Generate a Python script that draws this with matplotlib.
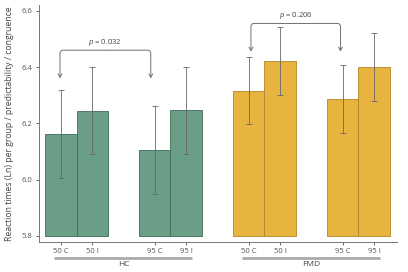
import numpy as np
import matplotlib.pyplot as plt

plt.rcParams['font.family'] = ['Open Sans', 'DejaVu Sans']
plt.rcParams['mathtext.fontset'] = 'custom'
plt.rcParams['mathtext.it'] = 'Open Sans:italic'
plt.rcParams['mathtext.rm'] = 'Open Sans'

labels = ['50 C', '50 I', '95 C', '95 I', '50 C', '50 I', '95 C', '95 I']
groups = ['HC', 'FMD']
hc_means = [6.163, 6.245, 6.106, 6.247]
hc_err = [0.157, 0.155, 0.156, 0.155]
fmd_means = [6.316, 6.421, 6.288, 6.401]
fmd_err = [0.120, 0.122, 0.121, 0.121]
p_values = ['0.032', '0.206']

base = 5.8
pos = np.array([0, 1, 3, 4, 6, 7, 9, 10])
green, green_edge = '#6a9e86', '#3f6b57'
yellow, yellow_edge = '#e8b440', '#b08628'
grey = '#666666'

fig = plt.figure(figsize=(4.08, 2.72), dpi=100)
ax = fig.add_axes([0.0956, 0.110, 0.877, 0.872])

ax.bar(pos[:4], np.array(hc_means) - base, 1.0, bottom=base, color=green,
       edgecolor=green_edge, linewidth=0.6)
ax.bar(pos[4:], np.array(fmd_means) - base, 1.0, bottom=base, color=yellow,
       edgecolor=yellow_edge, linewidth=0.6)
ax.errorbar(pos, hc_means + fmd_means, yerr=hc_err + fmd_err, fmt='none',
            ecolor=grey, elinewidth=0.6, capsize=2.5, capthick=0.6)

ax.set_xlim(-0.7, 10.73)
ax.set_ylim(5.778, 6.621)
ax.set_yticks([5.8, 6.0, 6.2, 6.4, 6.6])
ax.set_yticklabels(['5.8', '6.0', '6.2', '6.4', '6.6'])
ax.set_xticks(pos)
ax.set_xticklabels(labels)
ax.tick_params(axis='both', labelsize=5.5, colors='#555555', length=2.5,
               width=0.6, pad=2)
for s in ['top', 'right']:
    ax.spines[s].set_visible(False)
for s in ['left', 'bottom']:
    ax.spines[s].set_color('#777777')
    ax.spines[s].set_linewidth(0.7)
ax.set_ylabel('Reaction times (Ln) per group / predictability / congruence',
              fontsize=6.2, color='#444444', labelpad=6)

# group labels
trans = ax.get_xaxis_transform()
for g, (a, b) in zip(groups, [(pos[0], pos[3]), (pos[4], pos[7])]):
    ax.plot([a - 0.22, b + 0.2], [-0.0675, -0.0675], transform=trans,
            color='#aaaaaa', lw=2, clip_on=False, solid_capstyle='butt')
    ax.text((a + b) / 2, -0.095, g, transform=trans, ha='center', va='center',
            fontsize=6, color='#444444')

# significance brackets
brackets = [(pos[0] - 0.03, pos[2] - 0.13, 6.46, 6.36, p_values[0]),
            (pos[4] + 0.07, pos[6] - 0.07, 6.555, 6.455, p_values[1])]
for x1, x2, ytop, ytip, p in brackets:
    xm = (x1 + x2) / 2
    for x, ang in [(x1, 180), (x2, 0)]:
        ax.annotate('', xy=(x, ytip), xytext=(xm, ytop),
                    arrowprops=dict(arrowstyle='->,head_length=0.25,head_width=0.14',
                                    color='#707070', lw=0.7,
                                    shrinkA=0, shrinkB=0,
                                    connectionstyle='angle,angleA=%d,angleB=90,rad=3' % ang))
    ax.text(xm, ytop + 0.028, '$p$ = ' + p, ha='center', va='center',
            fontsize=5.5, color='#444444')

fig.savefig('out.png', dpi=100)
